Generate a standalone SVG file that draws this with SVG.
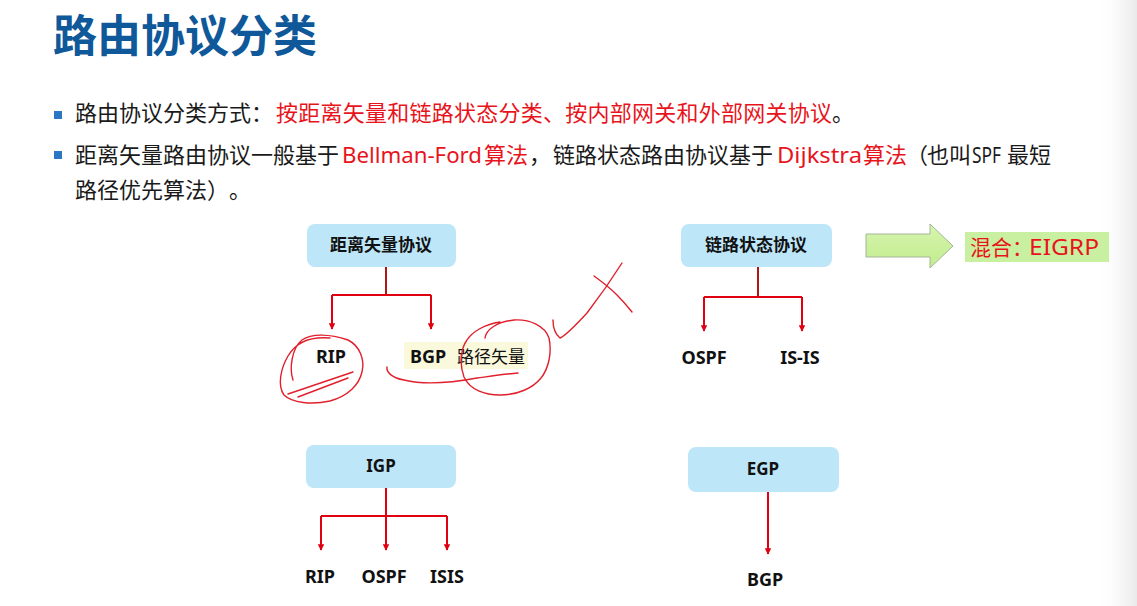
<svg xmlns="http://www.w3.org/2000/svg" width="1137" height="606" viewBox="0 0 1137 606">
  <defs>
    <style>
      .cjk { font-family: "Noto Sans CJK SC", "Noto Sans", sans-serif; text-spacing-trim: space-all; }
      .lat { font-family: "Noto Sans", "Noto Sans CJK SC", sans-serif; }
      .title { font-size: 44px; font-weight: 700; fill: #0f5899; }
      .body { font-size: 22px; fill: #1a1a1a; }
      .hl { fill: #e8141c; }
      .node-box { fill: #bde7f9; }
      .node-text { font-size: 17px; font-weight: 700; fill: #111; text-anchor: middle; }
      .leaf { font-size: 18px; font-weight: 700; fill: #111; text-anchor: middle; }
      .wire { fill: none; stroke: #e00010; stroke-width: 2; }
      .stem { fill: none; stroke: #b01818; stroke-width: 2; }
      .ink { fill: none; stroke: #e0202c; stroke-width: 1.4; stroke-linecap: round; stroke-linejoin: round; }
      .bullet { fill: #2a78c2; }
    </style>
    <marker id="tip" viewBox="0 0 10 10" refX="9" refY="5" markerWidth="3.2" markerHeight="3.2" orient="auto">
      <path d="M0,0 L10,5 L0,10 z" fill="#e00010"/>
    </marker>
    <linearGradient id="edge" x1="0" y1="0" x2="1" y2="0">
      <stop offset="0" stop-color="#ffffff" stop-opacity="0"/>
      <stop offset="1" stop-color="#e9e9e9"/>
    </linearGradient>
    <linearGradient id="arrowFill" x1="0" y1="0" x2="0" y2="1">
      <stop offset="0" stop-color="#d6f5ad"/>
      <stop offset="1" stop-color="#c2ec8e"/>
    </linearGradient>
  </defs>

  <rect width="1137" height="606" fill="#ffffff"/>
  <rect x="1095" y="0" width="42" height="606" fill="url(#edge)"/>

  <!-- heading -->
  <text class="cjk title" x="53" y="52">路由协议分类</text>

  <!-- bullet list -->
  <rect class="bullet" x="54" y="111" width="8" height="8"/>
  <text class="cjk body" x="75" y="121">路由协议分类方式：<tspan class="hl" x="276" letter-spacing="0.25">按距离矢量和链路状态分类、按内部网关和外部网关协议</tspan><tspan x="832">。</tspan></text>

  <rect class="bullet" x="54" y="151" width="8" height="8"/>
  <text class="cjk body" x="75" y="163">距离矢量路由协议一般基于<tspan class="hl lat" x="342" textLength="140" lengthAdjust="spacingAndGlyphs">Bellman-Ford</tspan><tspan class="hl" x="484">算法</tspan><tspan x="529">，</tspan><tspan x="553">链路状态路由协议基于</tspan><tspan class="hl lat" x="777" textLength="85" lengthAdjust="spacingAndGlyphs">Dijkstra</tspan><tspan class="hl" x="863">算法</tspan><tspan x="906">（</tspan><tspan x="927">也叫</tspan><tspan class="lat" x="972" textLength="29" lengthAdjust="spacingAndGlyphs">SPF</tspan><tspan x="1007">最短</tspan></text>
  <text class="cjk body" x="75" y="198">路径优先算法）<tspan x="229">。</tspan></text>

  <!-- connectors -->
  <g id="connectors">
    <path class="stem" d="M386,267 V295"/>
    <path class="wire" d="M332,295 H431"/>
    <path class="wire" d="M332,295 V329" marker-end="url(#tip)"/>
    <path class="wire" d="M431,295 V329" marker-end="url(#tip)"/>

    <path class="stem" d="M758,267 V297"/>
    <path class="wire" d="M704,297 H802"/>
    <path class="wire" d="M704,297 V331" marker-end="url(#tip)"/>
    <path class="wire" d="M802,297 V331" marker-end="url(#tip)"/>

    <path class="wire" d="M386,488 V550" marker-end="url(#tip)"/>
    <path class="wire" d="M321,516 H447"/>
    <path class="wire" d="M321,516 V550" marker-end="url(#tip)"/>
    <path class="wire" d="M447,516 V550" marker-end="url(#tip)"/>

    <path class="wire" d="M768,492 V554" marker-end="url(#tip)"/>
  </g>

  <!-- distance-vector branch -->
  <g id="node-distance-vector">
    <rect class="node-box" x="307" y="224" width="149" height="43" rx="8"/>
    <text class="cjk node-text" x="381" y="251">距离矢量协议</text>
  </g>
  <g id="node-rip-dv">
    <text class="lat leaf" x="331" y="363">RIP</text>
  </g>
  <g id="node-bgp-dv">
    <rect x="404" y="342" width="124" height="27" fill="#fbf9dc"/>
    <text class="lat leaf" x="410" y="363" style="text-anchor:start">BGP</text>
    <text class="cjk" x="457" y="363" font-size="17" fill="#111">路径矢量</text>
  </g>

  <!-- link-state branch -->
  <g id="node-link-state">
    <rect class="node-box" x="681" y="224" width="151" height="43" rx="8"/>
    <text class="cjk node-text" x="756" y="251">链路状态协议</text>
  </g>
  <g id="node-ospf-ls">
    <text class="lat leaf" x="704" y="364">OSPF</text>
  </g>
  <g id="node-isis-ls">
    <text class="lat leaf" x="800" y="364">IS-IS</text>
  </g>

  <!-- hybrid -->
  <g id="node-hybrid-arrow">
    <polygon points="866,234 930,234 930,224 953,246 930,268 930,257 866,257" fill="url(#arrowFill)" stroke="#a3b59a" stroke-width="1"/>
  </g>
  <g id="node-eigrp">
    <rect x="965" y="232" width="144" height="30" fill="#c8f0a0"/>
    <text class="cjk" x="970" y="255" font-size="21" fill="#e8141c">混合：</text>
    <text class="lat" x="1029" y="255" font-size="22" fill="#e8141c" textLength="70" lengthAdjust="spacingAndGlyphs">EIGRP</text>
  </g>

  <!-- IGP branch -->
  <g id="node-igp">
    <rect class="node-box" x="306" y="445" width="150" height="43" rx="8"/>
    <text class="lat node-text" x="381" y="472" font-size="18">IGP</text>
  </g>
  <g id="node-rip-igp">
    <text class="lat leaf" x="320" y="583">RIP</text>
  </g>
  <g id="node-ospf-igp">
    <text class="lat leaf" x="384" y="583">OSPF</text>
  </g>
  <g id="node-isis-igp">
    <text class="lat leaf" x="447" y="583">ISIS</text>
  </g>

  <!-- EGP branch -->
  <g id="node-egp">
    <rect class="node-box" x="688" y="447" width="151" height="45" rx="8"/>
    <text class="lat node-text" x="763" y="475" font-size="18">EGP</text>
  </g>
  <g id="node-bgp-egp">
    <text class="lat leaf" x="765" y="586">BGP</text>
  </g>

  <!-- hand-drawn pen marks -->
  <g id="pen-marks">
    <path class="ink" d="M293,380 C289,368 292,348 302,340 C312,333 330,334 348,340 C360,346 365,360 362,372 C359,385 348,396 330,401 C312,405 292,403 284,395 C277,385 281,368 288,356 C295,344 308,336 330,338"/>
    <path class="ink" d="M288,394 L353,372"/>
    <path class="ink" d="M298,397 L348,378"/>
    <path class="ink" d="M387,367 C386,372 392,378 404,380 C420,384 445,384 477,378 C492,376 506,374 518,373"/>
    <path class="ink" d="M485,338 C486,330 496,322 514,320 C530,319 545,326 549,338 C552,352 549,368 541,378 C533,388 518,395 500,395 C485,395 470,390 464,377 C459,364 461,348 467,340 C472,332 485,324 500,322"/>
    <path class="ink" d="M553,320 C553,327 555,334 560,338 C565,336 575,326 587,313 C597,300 610,282 622,263"/>
    <path class="ink" d="M594,276 C601,281 610,288 617,295 C623,301 628,307 632,312"/>
  </g>
</svg>
